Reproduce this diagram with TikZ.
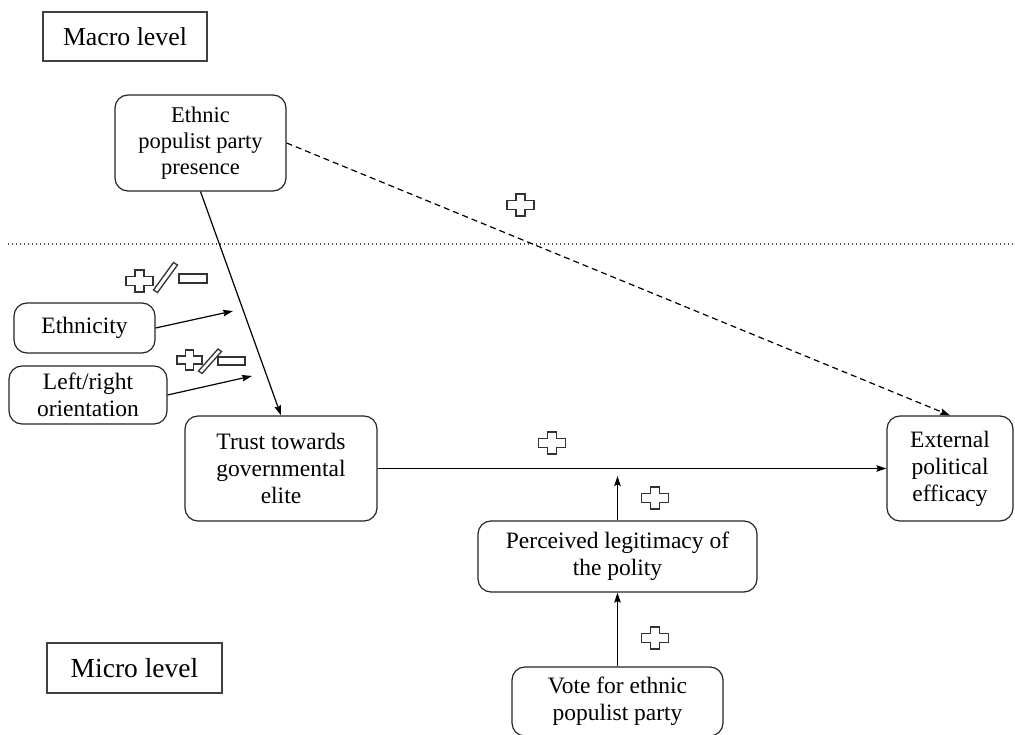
\documentclass[tikz,border=0pt]{standalone}
\usepackage{fontspec}
\setmainfont{Liberation Serif}
\usetikzlibrary{arrows.meta,calc}
\begin{document}
\begin{tikzpicture}[x=1pt,y=-1pt,
  nodebox/.style={draw=black!85,line width=1.2pt,rounded corners=13pt,align=center,inner sep=0pt,font=\fontsize{23.5}{27}\selectfont},
  lvl/.style={draw=black!75,line width=1.5pt,inner sep=0pt,align=center},
  arr/.style={line width=1.2pt,-{Stealth[length=10pt,width=6.5pt,inset=1.5pt]}},
  symline/.style={draw=black!80,line width=1.3pt,fill=white},
  plussign/.pic={\draw[symline] (-4.5,-11)--(4.5,-11)--(4.5,-4.3)--(13.5,-4.3)--(13.5,4.3)--(4.5,4.3)--(4.5,11)--(-4.5,11)--(-4.5,4.3)--(-13.5,4.3)--(-13.5,-4.3)--(-4.5,-4.3)--cycle;}
]
\useasboundingbox[fill=white] (0,0) rectangle (1015,735);

% level labels
\node[lvl,minimum width=164pt,minimum height=49pt,font=\fontsize{25.8}{30}\selectfont] (macro) at (125,36.5) {Macro level};
\node[lvl,minimum width=175pt,minimum height=50pt,font=\fontsize{27.5}{32}\selectfont] (micro) at (134.5,668) {Micro level};

% separator
\coordinate (dl) at (8,244);
\coordinate (dr) at (1015,244);
\draw[dash pattern=on 1.3pt off 2.7pt,line width=1.1pt,black!70] (dl) -- (dr);

% nodes
\node[nodebox,minimum width=171pt,minimum height=96pt,font=\fontsize{22.5}{26}\selectfont] (epp) at (200.5,143) {Ethnic\\populist party\\presence};
\node[nodebox,minimum width=141pt,minimum height=50pt] (eth) at (84.5,328) {Ethnicity};
\node[nodebox,minimum width=158pt,minimum height=58pt] (lr) at (88,395) {Left/right\\orientation};
\node[nodebox,minimum width=192pt,minimum height=105pt] (trust) at (281,468.5) {Trust towards\\governmental\\elite};
\node[nodebox,minimum width=126pt,minimum height=105pt] (ext) at (950,468.5) {External\\political\\efficacy};
\node[nodebox,minimum width=279pt,minimum height=71pt] (perc) at (617.5,556.5) {Perceived legitimacy of\\the polity};
\node[nodebox,minimum width=211pt,minimum height=69pt] (vote) at (617.5,701.5) {Vote for ethnic\\populist party};

% connectors
\draw[arr] (epp.south) -- (trust.north);
\draw[arr,dash pattern=on 6pt off 4pt] (epp.east) -- (ext.north);
\draw[arr] (trust.east) -- (ext.west);
\coordinate (ethend) at (233,311);
\coordinate (lrend) at (252,376);
\draw[arr] (eth.east) -- (ethend);
\draw[arr] (lr.east) -- (lrend);
\coordinate (modend) at (617.5,476);
\draw[arr] (perc.north) -- (modend);
\draw[arr] (vote.north) -- (perc.south);

% signs
\pic at (520.5,205) {plussign};
\pic at (552,443) {plussign};
\pic at (655,498) {plussign};
\pic at (655,638) {plussign};

\pic at (139.5,281) {plussign};
\draw[symline] (153.5,290) -- (157.5,292.5) -- (177.5,265) -- (173.5,262.5) -- cycle;
\draw[symline] (179,274) rectangle (207,283);

\pic[scale=0.92] at (189.5,360) {plussign};
\draw[symline] (198.5,371) -- (202,373.5) -- (221.5,351.5) -- (218,349) -- cycle;
\draw[symline] (218,357) rectangle (245,365);
\end{tikzpicture}
\end{document}
